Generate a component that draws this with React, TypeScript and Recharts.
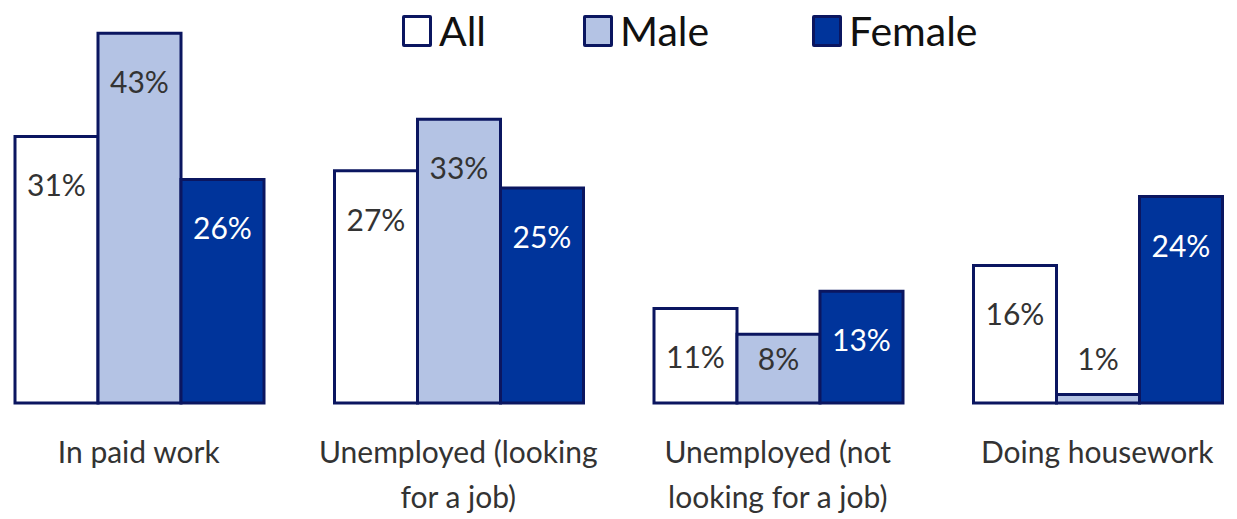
import { BarChart, Bar, XAxis, YAxis } from "recharts";

const categories = ["In paid work", "Unemployed (looking for a job)", "Unemployed (not looking for a job)", "Doing housework"];
const tickLines = [["In paid work"], ["Unemployed (looking", "for a job)"], ["Unemployed (not", "looking for a job)"], ["Doing housework"]];
const allValues = [31, 27, 11, 16];
const maleValues = [43, 33, 8, 1];
const femaleValues = [26, 25, 13, 24];

const series = [
  { key: "all", name: "All", fill: "#ffffff", text: "#333333", legendX: 402 },
  { key: "male", name: "Male", fill: "#b4c3e4", text: "#333333", legendX: 583 },
  { key: "female", name: "Female", fill: "#00349b", text: "#ffffff", legendX: 812 },
];

const data = categories.map((c, i) => ({
  category: c,
  all: allValues[i],
  male: maleValues[i],
  female: femaleValues[i],
}));

const STROKE = "#0b1660";
const FONT = "Lato, 'Open Sans', sans-serif";

const makeLabel = (color: string) => (props: any) => {
  const { x, y, width, value } = props;
  const ty = Math.min(y + 48, 358);
  return (
    <text x={x + width / 2} y={ty} textAnchor="middle" dominantBaseline="central" fill={color} fontSize={30} fontFamily={FONT}>
      {`${value}%`}
    </text>
  );
};

const Tick = (props: any) => {
  const { x, y, payload } = props;
  const lines = tickLines[payload.index] ?? [payload.value];
  return (
    <g>
      {lines.map((l, i) => (
        <text key={i} x={x} y={y + 40 + i * 45} textAnchor="middle" dominantBaseline="central" fill="#333333" fontSize={30} fontFamily={FONT}>
          {l}
        </text>
      ))}
    </g>
  );
};

const LegendBox = () => (
  <div style={{ position: "absolute", top: 0, left: 0, width: 1237, height: 60, fontFamily: FONT, fontSize: 41, color: "#111111" }}>
    {series.map((s) => (
      <div key={s.key} style={{ position: "absolute", left: s.legendX, top: 10, height: 42, display: "flex", alignItems: "center", gap: 7 }}>
        <div style={{ width: 24, height: 26, background: s.fill, border: `3px solid ${STROKE}`, borderRadius: 2 }} />
        <span style={{ lineHeight: "42px" }}>{s.name}</span>
      </div>
    ))}
  </div>
);

export default function App() {
  return (
    <div style={{ position: "absolute", left: 0, top: 0, width: 1237, height: 519, overflow: "hidden", background: "#fff" }}>
      <div style={{ marginLeft: -21 }}>
        <BarChart width={1278} height={519} data={data} margin={{ top: 16, right: 0, bottom: 86, left: 0 }} barCategoryGap={36} barGap={0}>
          <XAxis dataKey="category" axisLine={false} tickLine={false} tick={<Tick />} interval={0} />
          <YAxis hide domain={[0, 45]} />
          {series.map((s) => (
            <Bar
              key={s.key}
              dataKey={s.key}
              name={s.name}
              fill={s.fill}
              stroke={STROKE}
              strokeWidth={3}
              isAnimationActive={false}
              label={makeLabel(s.text)}
            />
          ))}
        </BarChart>
      </div>
      <LegendBox />
    </div>
  );
}
